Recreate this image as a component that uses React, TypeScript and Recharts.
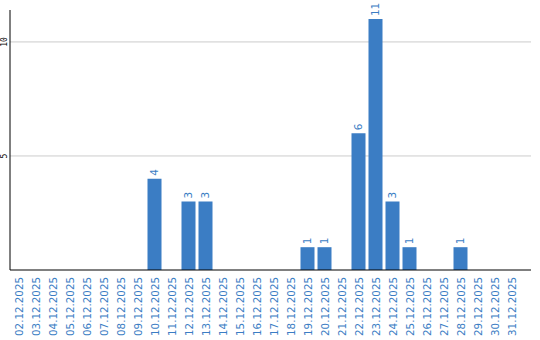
import React from 'react';
import { BarChart, Bar, XAxis, YAxis, CartesianGrid, LabelList } from 'recharts';

const dates = [
  '02.12.2025','03.12.2025','04.12.2025','05.12.2025','06.12.2025','07.12.2025','08.12.2025','09.12.2025',
  '10.12.2025','11.12.2025','12.12.2025','13.12.2025','14.12.2025','15.12.2025','16.12.2025','17.12.2025',
  '18.12.2025','19.12.2025','20.12.2025','21.12.2025','22.12.2025','23.12.2025','24.12.2025','25.12.2025',
  '26.12.2025','27.12.2025','28.12.2025','29.12.2025','30.12.2025','31.12.2025',
];
const counts = [0,0,0,0,0,0,0,0,4,0,3,3,0,0,0,0,0,1,1,0,6,11,3,1,0,0,1,0,0,0];
const yTicks = [0, 5, 10];
const gridValues = [5, 10];

const data = dates.map((d, i) => ({ date: d, value: counts[i] }));

const BLUE = '#3b7dc4';

const XTick = (props: any) => {
  const { x, y, payload } = props;
  const ty = y - 1;
  return (
    <text
      x={x}
      y={ty}
      transform={`rotate(-90, ${x}, ${ty})`}
      textAnchor="end"
      dominantBaseline="central"
      fill={BLUE}
      fontSize={10.3}
      fontFamily="DejaVu Sans"
    >
      {payload.value}
    </text>
  );
};

const YTick = (props: any) => {
  const { y, payload } = props;
  if (payload.value === 0) return null;
  return (
    <text
      x={5}
      y={y}
      transform={`rotate(-90, 5, ${y})`}
      textAnchor="middle"
      dominantBaseline="central"
      fill="#000"
      fontSize={8}
      fontFamily="DejaVu Sans Mono"
    >
      {payload.value}
    </text>
  );
};

const BarLabel = (props: any) => {
  const { x, y, width, value } = props;
  if (!value) return null;
  const cx = x + width / 2;
  const cy = y - 3;
  return (
    <text
      x={cx}
      y={cy}
      transform={`rotate(-90, ${cx}, ${cy})`}
      textAnchor="start"
      dominantBaseline="central"
      fill={BLUE}
      fontSize={10.5}
      fontFamily="DejaVu Sans"
    >
      {value}
    </text>
  );
};

export default function App() {
  return (
    <div style={{ position: 'absolute', left: 0, top: 0 }}>
      <BarChart
        width={540}
        height={340}
        data={data}
        margin={{ top: 10, right: 9, bottom: 0, left: 0 }}
        barCategoryGap={1.5}
      >
        <CartesianGrid horizontal={true} vertical={false} stroke="#cccccc" horizontalValues={gridValues} />
        <XAxis
          dataKey="date"
          interval={0}
          height={70}
          tickLine={false}
          axisLine={{ stroke: '#000' }}
          tick={<XTick />}
          padding={{ left: 0, right: 11 }}
        />
        <YAxis
          width={10}
          domain={[0, 11.4]}
          ticks={yTicks}
          tickLine={false}
          axisLine={{ stroke: '#000' }}
          tick={<YTick />}
        />
        <Bar dataKey="value" fill={BLUE} isAnimationActive={false}>
          <LabelList dataKey="value" content={<BarLabel />} />
        </Bar>
      </BarChart>
    </div>
  );
}
